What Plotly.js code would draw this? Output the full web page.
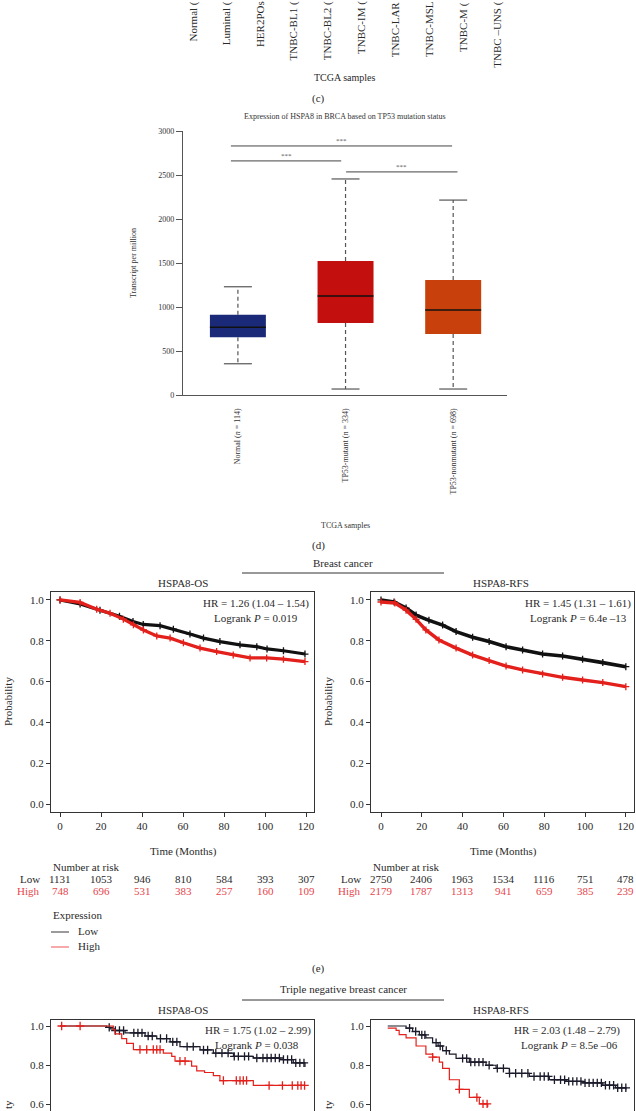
<!DOCTYPE html>
<html><head><meta charset="utf-8">
<script src="https://cdn.plot.ly/plotly-3.0.1.min.js"></script>
<style>html,body{margin:0;padding:0;background:#fff}#chart{width:636px;height:1111px}</style>
</head><body><div id="chart"></div>
<script>
// ---------------- DATA ----------------
// Panel (c) remnant tick labels (only their lower parts are visible at the top of the figure)
const cLabels = ["Normal (", "Luminal (", "HER2POs", "TNBC-BL1 (", "TNBC-BL2 (", "TNBC-IM (", "TNBC-LAR", "TNBC-MSL", "TNBC-M (", "TNBC –UNS ("];

// Panel (d) box plot
const boxCats = ["Normal", "TP53-mutant", "TP53-nonmutant"];
const boxN = [114, 334, 698];
const boxLower = [355, 68, 68];
const boxQ1 = [656, 818, 693];
const boxMedian = [770, 1125, 966];
const boxQ3 = [911, 1522, 1307];
const boxUpper = [1230, 2455, 2215];
const sigPairs = [[1, 3], [1, 2], [2, 3]];
const sigY = [2830, 2660, 2535];
const sigText = ["***", "***", "***"];

// Panel (e) Breast cancer KM
const osLowT  = [0, 9.8, 19.5, 29, 35.6, 40.6, 48.8, 55.3, 63.4, 70, 78, 87.8, 96, 101, 109, 119.5];
const osLowS  = [1.0, 0.98, 0.95, 0.92, 0.894, 0.88, 0.874, 0.857, 0.833, 0.813, 0.796, 0.78, 0.771, 0.76, 0.751, 0.735];
const osHighT = [0, 9.8, 17.9, 24.4, 30.9, 35.8, 40.7, 47.2, 53.7, 60.2, 68.3, 76.4, 84.5, 92.7, 100.8, 109, 119.5];
const osHighS = [1.0, 0.988, 0.955, 0.935, 0.906, 0.878, 0.853, 0.824, 0.813, 0.79, 0.764, 0.747, 0.73, 0.716, 0.716, 0.71, 0.698];
const rfsLowT  = [0, 6.4, 12.3, 17.2, 23.5, 30.2, 36.8, 44.9, 53, 61.3, 69.4, 79.2, 89, 98.8, 108.7, 120];
const rfsLowS  = [1.0, 0.99, 0.96, 0.926, 0.90, 0.877, 0.845, 0.817, 0.796, 0.771, 0.755, 0.735, 0.725, 0.71, 0.693, 0.673];
const rfsHighT = [0, 6.8, 12.3, 17.2, 22, 28.4, 36.8, 44.9, 53, 61.3, 69.4, 79.2, 89, 98.8, 108.7, 120];
const rfsHighS = [0.99, 0.985, 0.95, 0.905, 0.853, 0.804, 0.764, 0.73, 0.703, 0.676, 0.657, 0.637, 0.621, 0.608, 0.595, 0.575];

const riskTimes = [0, 20, 40, 60, 80, 100, 120];
const osRiskLow  = [1131, 1053, 946, 810, 584, 393, 307];
const osRiskHigh = [748, 696, 531, 383, 257, 160, 109];
const rfsRiskLow  = [2750, 2406, 1963, 1534, 1116, 751, 478];
const rfsRiskHigh = [2179, 1787, 1313, 941, 659, 385, 239];

// Panel (f) Triple negative breast cancer KM (partially visible)
const tnOsLowT = [0, 22.8, 24.4, 26.8, 31.7, 41.5, 47.2, 53.7, 58.5, 68.3, 74.8, 84.6, 94.3, 107.3, 113.8, 119.5];
const tnOsLowS = [1.0, 0.993, 0.985, 0.977, 0.965, 0.949, 0.936, 0.919, 0.895, 0.878, 0.862, 0.845, 0.837, 0.829, 0.812, 0.791];
const tnOsLowCens = [24, 27, 29, 31, 36, 38, 40, 43, 45, 49, 52, 55, 57, 62, 65, 70, 72, 76, 79, 82, 85, 87, 90, 92, 96, 99, 101, 103, 105, 107, 109, 111, 113, 115, 117, 119];
const tnOsHighT = [0, 26.0, 26.8, 30.1, 32.5, 35.8, 50.4, 54.5, 56.1, 64.2, 66.7, 70.5, 74.8, 78, 94.3, 119.5];
const tnOsHighS = [1.0, 0.982, 0.96, 0.936, 0.911, 0.88, 0.862, 0.845, 0.821, 0.796, 0.771, 0.763, 0.747, 0.722, 0.697, 0.697];
const tnOsHighCens = [0.8, 9.8, 39, 42.3, 45.5, 47.2, 48.8, 58.5, 61, 79.7, 86, 87.8, 89.4, 91, 102, 108.5, 113.3, 116, 117.6, 119.3];

const tnRfsLowT = [3.3, 12.3, 15.5, 18.8, 22, 25.3, 28, 30.2, 33.5, 36.8, 43.3, 51.5, 56.4, 62.9, 72.7, 82.5, 90.7, 98.9, 108.7, 115, 120.1];
const tnRfsLowS = [1.0, 0.989, 0.972, 0.955, 0.939, 0.915, 0.898, 0.875, 0.857, 0.835, 0.816, 0.80, 0.784, 0.759, 0.743, 0.726, 0.718, 0.71, 0.698, 0.685, 0.677];
const tnRfsLowCens = [14, 17, 20, 21.5, 27, 29, 32, 40, 42, 44, 46, 48, 50, 53, 57, 60, 63, 66, 69, 72, 75, 78, 80, 82, 85, 88, 90, 92, 94, 96, 98, 100, 102, 104, 106, 108, 110, 112, 114, 116, 118, 120];
const tnRfsHighT = [3.3, 7.4, 8.9, 12.3, 17.2, 22, 25.3, 28.6, 30.2, 33.5, 38.4, 43.3, 48.2, 52.3];
const tnRfsHighS = [0.989, 0.978, 0.956, 0.94, 0.898, 0.857, 0.841, 0.816, 0.784, 0.726, 0.677, 0.636, 0.603, 0.587];
const tnRfsHighCens = [25.3, 38.4, 47, 50, 52];

// ---------------- DRAWING ----------------
const W = 636, H = 1111;
const FONT = "Liberation Serif, DejaVu Serif, serif";
const TXT = "#2a2a2a";
const RED = "#E3201B";
const RISKRED = "#E8444A";
const px = v => v / W;
const py = v => 1 - v / H;

function stepAt(t, T, S) {
  let v = S[0];
  for (let i = 0; i < T.length; i++) { if (T[i] <= t) v = S[i]; }
  return v;
}

const traces = [];
const annotations = [];
const shapes = [];

function ann(text, x, y, size, opts) {
  annotations.push(Object.assign({
    text: text, x: px(x), y: py(y), xref: "paper", yref: "paper",
    showarrow: false, font: {family: FONT, size: size, color: TXT},
    xanchor: "center", yanchor: "middle"
  }, opts || {}));
}
function hline(x0, x1, y, color, width) {
  shapes.push({type: "line", xref: "paper", yref: "paper", x0: px(x0), x1: px(x1), y0: py(y), y1: py(y),
    line: {color: color, width: width}});
}

// ---- (c) remnant ----
cLabels.forEach((t, i) => {
  ann(t, 193 + 33.8 * i, 0.5, 11, {textangle: -90, yanchor: "top", borderpad: 0});
});
ann("TCGA samples", 344, 78, 10);
ann("(c)", 318, 99, 11);

// ---- (d) box plot ----
const boxColors = ["#1B2A78", "#C30F0E", "#C8400B"];
const xs = boxCats.map((c, i) => i + 1);
const bw = 0.52;
traces.push({
  type: "bar", x: xs, base: boxQ1, y: boxQ3.map((q, i) => q - boxQ1[i]),
  width: bw, marker: {color: boxColors, line: {width: 0}}, xaxis: "x", yaxis: "y", hoverinfo: "skip"
});
const medX = [], medY = [], whX = [], whY = [], capX = [], capY = [];
xs.forEach((c, i) => {
  medX.push(c - bw / 2, c + bw / 2, null); medY.push(boxMedian[i], boxMedian[i], null);
  whX.push(c, c, null, c, c, null); whY.push(boxQ3[i], boxUpper[i], null, boxQ1[i], boxLower[i], null);
  capX.push(c - bw / 4, c + bw / 4, null, c - bw / 4, c + bw / 4, null);
  capY.push(boxUpper[i], boxUpper[i], null, boxLower[i], boxLower[i], null);
});
traces.push({type: "scatter", mode: "lines", x: whX, y: whY, line: {color: "#555", width: 1.2, dash: "4px,3px"}, xaxis: "x", yaxis: "y", hoverinfo: "skip"});
traces.push({type: "scatter", mode: "lines", x: capX, y: capY, line: {color: "#555", width: 1.2}, xaxis: "x", yaxis: "y", hoverinfo: "skip"});
traces.push({type: "scatter", mode: "lines", x: medX, y: medY, line: {color: "#111", width: 1.5}, xaxis: "x", yaxis: "y", hoverinfo: "skip"});
// significance brackets
const sigStartOff = [-0.065, -0.065, 0.005];
const sigEndOff = [-0.01, -0.04, 0.04];
const sgX = [], sgY = [];
sigPairs.forEach((p, i) => {
  const a = p[0] + sigStartOff[i], b = p[1] + sigEndOff[i];
  sgX.push(a, b, null); sgY.push(sigY[i], sigY[i], null);
  annotations.push({text: sigText[i], x: (a + b) / 2, y: sigY[i], xref: "x", yref: "y", showarrow: false,
    yanchor: "bottom", yshift: -1, font: {family: FONT, size: 7, color: "#555"}});
});
traces.push({type: "scatter", mode: "lines", x: sgX, y: sgY, line: {color: "#444", width: 1}, xaxis: "x", yaxis: "y", hoverinfo: "skip", cliponaxis: false});

ann("Expression of HSPA8 in BRCA based on TP53 mutation status", 345, 117, 8, {font: {family: FONT, size: 8, color: "#333"}});
ann("Transcript per million", 133, 263, 8, {textangle: -90, font: {family: FONT, size: 8, color: "#333"}});
ann("TCGA samples", 345, 525, 8, {font: {family: FONT, size: 8, color: "#333"}});
ann("(d)", 318, 545, 11);

// ---- (e) breast cancer KM ----
ann("Breast cancer", 343, 563, 11);
hline(242, 444, 573, "#333", 1);
ann("HSPA8-OS", 183, 583, 11);
ann("HSPA8-RFS", 501, 583, 11);

function kmTrace(T, S, color, xa, ya, width, dense) {
  return {type: "scatter", mode: dense ? "lines+markers" : "lines", x: T, y: S, xaxis: xa, yaxis: ya,
    line: {color: color, width: width, shape: dense ? "linear" : "hv"},
    marker: {symbol: "cross-thin", size: 5, color: color, line: {color: color, width: 1.3}},
    hoverinfo: "skip"};
}
function censTrace(C, T, S, color, xa, ya) {
  return {type: "scatter", mode: "markers", x: C, y: C.map(t => stepAt(t, T, S)), xaxis: xa, yaxis: ya,
    marker: {symbol: "cross-thin", size: 6, color: color, line: {color: color, width: 1.3}}, hoverinfo: "skip"};
}
traces.push(kmTrace(osLowT, osLowS, "#111", "x2", "y2", 3.2, true));
traces.push(kmTrace(osHighT, osHighS, RED, "x2", "y2", 3.2, true));
traces.push(kmTrace(rfsLowT, rfsLowS, "#111", "x3", "y3", 3.6, true));
traces.push(kmTrace(rfsHighT, rfsHighS, RED, "x3", "y3", 3.4, true));

ann("HR = 1.26 (1.04 – 1.54)", 256, 603, 11);
ann("Logrank <i>P</i> = 0.019", 256, 618, 11);
ann("HR = 1.45 (1.31 – 1.61)", 578, 603, 11);
ann("Logrank <i>P</i> = 6.4e –13", 578, 618, 11);
ann("Probability", 8, 702, 11, {textangle: -90});
ann("Probability", 328, 702, 11, {textangle: -90});
ann("Time (Months)", 183, 851, 11);
ann("Time (Months)", 503, 851, 11);
ann("Number at risk", 51, 867, 11, {xanchor: "left"});
ann("Number at risk", 371, 867, 11, {xanchor: "left"});
ann("Low", 42, 879, 11, {xanchor: "right"});
ann("High", 42, 891, 11, {xanchor: "right", font: {family: FONT, size: 11, color: RISKRED}});
ann("Low", 363, 879, 11, {xanchor: "right"});
ann("High", 363, 891, 11, {xanchor: "right", font: {family: FONT, size: 11, color: RISKRED}});
function riskRow(vals, xref, y, color) {
  vals.forEach((v, i) => {
    annotations.push({text: String(v), x: riskTimes[i], xref: xref, y: py(y), yref: "paper", showarrow: false,
      xanchor: "center", yanchor: "middle", font: {family: FONT, size: 11, color: color}});
  });
}
riskRow(osRiskLow, "x2", 879, TXT);
riskRow(osRiskHigh, "x2", 891, RISKRED);
riskRow(rfsRiskLow, "x3", 879, TXT);
riskRow(rfsRiskHigh, "x3", 891, RISKRED);

ann("Expression", 51, 915, 11, {xanchor: "left"});
hline(51, 69, 932, "#7a7a7a", 1.5);
ann("Low", 76, 931, 11, {xanchor: "left"});
hline(51, 69, 947, "#F28C8C", 1.5);
ann("High", 76, 946, 11, {xanchor: "left"});
ann("(e)", 318, 968, 11);

// ---- (f) triple negative KM (cut) ----
ann("Triple negative breast cancer", 343, 989, 11);
hline(242, 444, 1000, "#333", 1);
ann("HSPA8-OS", 183, 1010, 11);
ann("HSPA8-RFS", 501, 1010, 11);
traces.push(kmTrace(tnOsLowT, tnOsLowS, "#1a1a2a", "x4", "y4", 1.2, false));
traces.push(censTrace(tnOsLowCens, tnOsLowT, tnOsLowS, "#1a1a2a", "x4", "y4"));
traces.push(kmTrace(tnOsHighT, tnOsHighS, RED, "x4", "y4", 1.2, false));
traces.push(censTrace(tnOsHighCens, tnOsHighT, tnOsHighS, RED, "x4", "y4"));
traces.push(kmTrace(tnRfsLowT, tnRfsLowS, "#1a1a2a", "x5", "y5", 1.2, false));
traces.push(censTrace(tnRfsLowCens, tnRfsLowT, tnRfsLowS, "#1a1a2a", "x5", "y5"));
traces.push(kmTrace(tnRfsHighT, tnRfsHighS, RED, "x5", "y5", 1.2, false));
traces.push(censTrace(tnRfsHighCens, tnRfsHighT, tnRfsHighS, RED, "x5", "y5"));
ann("HR = 1.75 (1.02 – 2.99)", 258, 1030, 11);
ann("Logrank <i>P</i> = 0.038", 257, 1045, 11);
ann("HR = 2.03 (1.48 – 2.79)", 567, 1030, 11);
ann("Logrank <i>P</i> = 8.5e –06", 569, 1045, 11);
// only the top of the rotated "Probability" title is visible above the figure's bottom edge
ann("ty", 8, 1110.5, 11, {textangle: -90, yanchor: "bottom", borderpad: 0});
ann("ty", 328, 1110.5, 11, {textangle: -90, yanchor: "bottom", borderpad: 0});

// ---------------- AXES ----------------
const tickF = {family: FONT, size: 11, color: TXT};
function kmX(dom, range, extra) {
  return Object.assign({domain: [px(dom[0]), px(dom[1])], range: range, showgrid: false, zeroline: false,
    showline: true, mirror: true, linecolor: "#333", linewidth: 1, ticks: "outside", ticklen: 4, tickcolor: "#333",
    tickvals: riskTimes, tickfont: tickF, fixedrange: true}, extra || {});
}
function kmY(dom, range, anchor, extra) {
  return Object.assign({domain: [py(dom[1]), py(dom[0])], range: range, anchor: anchor, showgrid: false, zeroline: false,
    showline: true, mirror: true, linecolor: "#333", linewidth: 1, ticks: "outside", ticklen: 4, tickcolor: "#333",
    tickvals: [0, 0.2, 0.4, 0.6, 0.8, 1.0], tickformat: ".1f", tickfont: tickF, fixedrange: true}, extra || {});
}
// bottom row: 1.0 at y=1026 px, 0.6 at y=1104.5 px, frame top at 1020, figure bottom at 1111
const r2Scale = (1104.5 - 1026) / 0.4;
const row2Top = 1020, row2Range = [1 - (1111 - 1026) / r2Scale, 1 + (1026 - 1020) / r2Scale];

const layout = {
  width: W, height: H, margin: {l: 0, r: 0, t: 0, b: 0}, paper_bgcolor: "#fff", plot_bgcolor: "rgba(0,0,0,0)",
  showlegend: false, hovermode: false, font: {family: FONT, color: TXT},
  xaxis: {domain: [px(183), px(507)], range: [0.49, 3.5], showgrid: false, zeroline: false, showline: true,
    linecolor: "#555", linewidth: 1.2, ticks: "", tickvals: xs,
    ticktext: boxCats.map((c, i) => c + " (<i>n</i> = " + boxN[i] + ")"), tickangle: -90,
    ticklabelstandoff: 9, tickfont: {family: FONT, size: 8, color: "#333"}, anchor: "y", fixedrange: true},
  yaxis: {domain: [py(395), py(131)], range: [0, 3000], showgrid: false, zeroline: false, showline: true,
    linecolor: "#555", linewidth: 1.2, ticks: "outside", ticklen: 6, tickcolor: "#555",
    tickvals: [0, 500, 1000, 1500, 2000, 2500, 3000], tickfont: {family: FONT, size: 8, color: "#333"},
    anchor: "x", fixedrange: true},
  xaxis2: kmX([51, 314], [-4.4, 123.9], {anchor: "y2"}),
  yaxis2: kmY([592, 812], [-0.039, 1.039], "x2"),
  xaxis3: kmX([371, 634], [-4.9, 124], {anchor: "y3"}),
  yaxis3: kmY([592, 812], [-0.039, 1.039], "x3"),
  xaxis4: kmX([51, 314], [-4.4, 123.9], {anchor: "y4", side: "top", mirror: false, ticks: "", showticklabels: false}),
  yaxis4: kmY([row2Top, 1111], row2Range, "x4", {ticklabeloverflow: "allow"}),
  xaxis5: kmX([371, 634], [-4.9, 124], {anchor: "y5", side: "top", mirror: false, ticks: "", showticklabels: false}),
  yaxis5: kmY([row2Top, 1111], row2Range, "x5", {ticklabeloverflow: "allow"}),
  annotations: annotations, shapes: shapes
};

Plotly.newPlot("chart", traces, layout, {staticPlot: true, displayModeBar: false});
</script>
</body></html>
